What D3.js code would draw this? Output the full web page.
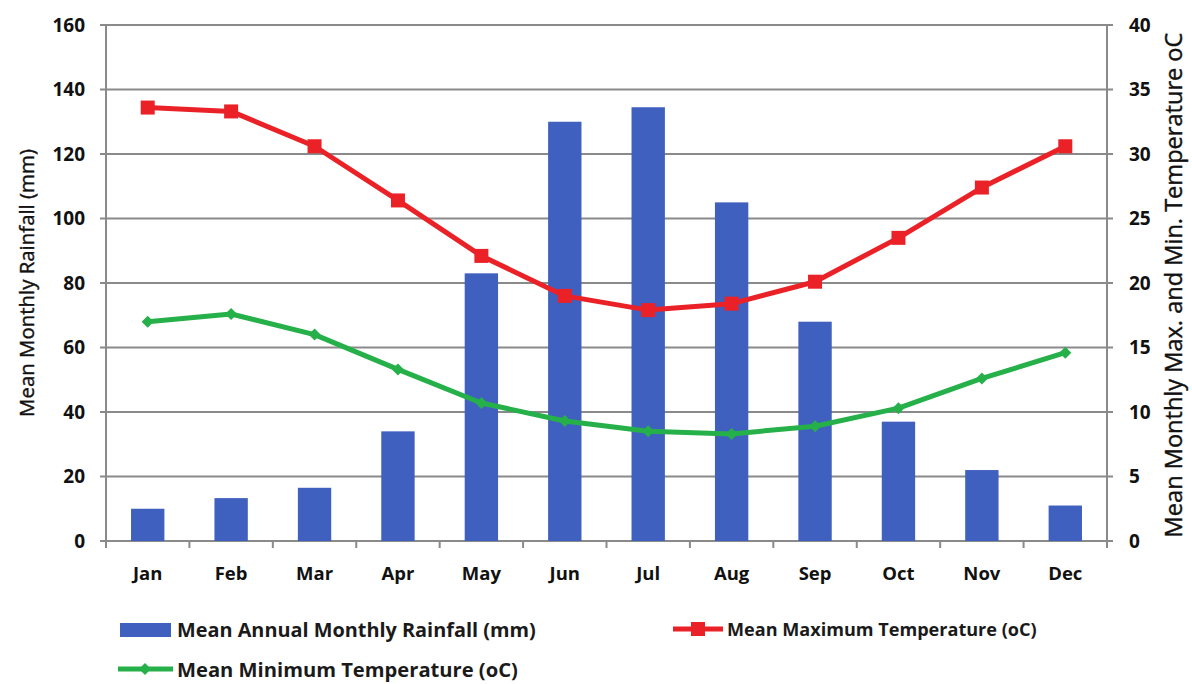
<!DOCTYPE html>
<html><head><meta charset="utf-8">
<script src="https://cdn.jsdelivr.net/npm/d3@7"></script>
<style>body{margin:0;background:#fff}svg{display:block}</style>
</head><body><svg id="c" width="1192" height="684"></svg>
<script>
const months = ["Jan","Feb","Mar","Apr","May","Jun","Jul","Aug","Sep","Oct","Nov","Dec"];
const rainfall = [10, 13.3, 16.5, 34, 83, 130, 134.5, 105, 68, 37, 22, 11];
const maxTemp = [33.6, 33.3, 30.6, 26.4, 22.1, 19.0, 17.9, 18.4, 20.1, 23.5, 27.4, 30.6];
const minTemp = [17.0, 17.6, 16.0, 13.3, 10.7, 9.3, 8.5, 8.3, 8.9, 10.3, 12.6, 14.6];
const leftTicks = [0,20,40,60,80,100,120,140,160];
const rightTicks = [0,5,10,15,20,25,30,35,40];

const svg = d3.select("#c");
const L=106, R=1107, T=25, B=541;
const font = "'Open Sans', Lato, sans-serif";
const x = d3.scaleBand().domain(months).range([L,R]).paddingInner(0.6).paddingOuter(0.3);
const xb = d3.scaleBand().domain(months).range([L,R]);
const yL = d3.scaleLinear().domain([0,160]).range([B,T]);
const yR = d3.scaleLinear().domain([0,40]).range([B,T]);
const grid="#8a8a8a";

function fit(sel, w){
  const n = sel.node(); const fs = parseFloat(sel.attr("font-size"));
  const cur = n.getComputedTextLength();
  const nf = fs*w/cur;
  sel.attr("font-size", nf);
  return nf;
}

svg.append("g").selectAll("line").data(leftTicks).join("line")
  .attr("x1",L-6).attr("x2",R+6).attr("y1",d=>yL(d)).attr("y2",d=>yL(d))
  .attr("stroke",grid).attr("stroke-width",2);
svg.append("line").attr("x1",L).attr("x2",L).attr("y1",T).attr("y2",B).attr("stroke",grid).attr("stroke-width",2);
svg.append("line").attr("x1",R).attr("x2",R).attr("y1",T).attr("y2",B).attr("stroke",grid).attr("stroke-width",2);
const bounds = months.map(m=>xb(m)).concat([R]);
svg.append("g").selectAll("line").data(bounds).join("line")
  .attr("x1",d=>d).attr("x2",d=>d).attr("y1",B).attr("y2",B+7).attr("stroke",grid).attr("stroke-width",2);

svg.append("g").selectAll("rect").data(rainfall).join("rect")
  .attr("x",(d,i)=>x(months[i])).attr("width",x.bandwidth())
  .attr("y",d=>yL(d)).attr("height",d=>B-yL(d)).attr("fill","#4060c0");

const cx = i => xb(months[i]) + xb.bandwidth()/2;
const line = s => d3.line().x((d,i)=>cx(i)).y(d=>s(d));
svg.append("path").datum(maxTemp).attr("d",line(yR)).attr("fill","none").attr("stroke","#ea2228").attr("stroke-width",5).attr("stroke-linejoin","round");
svg.append("path").datum(minTemp).attr("d",line(yR)).attr("fill","none").attr("stroke","#26b04a").attr("stroke-width",5).attr("stroke-linejoin","round");
svg.append("g").selectAll("rect").data(maxTemp).join("rect")
  .attr("x",(d,i)=>cx(i)-7).attr("y",d=>yR(d)-7).attr("width",14).attr("height",14).attr("fill","#ea2228");
svg.append("g").selectAll("path").data(minTemp).join("path")
  .attr("d",(d,i)=>`M${cx(i)},${yR(d)-6}L${cx(i)+6},${yR(d)}L${cx(i)},${yR(d)+6}L${cx(i)-6},${yR(d)}Z`).attr("fill","#26b04a");

svg.append("g").selectAll("text").data(leftTicks).join("text")
  .attr("x",85).attr("y",d=>yL(d)).attr("dy","0.36em").attr("text-anchor","end")
  .attr("font-family",font).attr("font-weight","bold").attr("font-size",19).attr("fill","#111").text(d=>d);
svg.append("g").selectAll("text").data(rightTicks).join("text")
  .attr("x",1129).attr("y",d=>yR(d)).attr("dy","0.36em").attr("text-anchor","start")
  .attr("font-family",font).attr("font-weight","bold").attr("font-size",19).attr("fill","#111").text(d=>d);
svg.append("g").selectAll("text").data(months).join("text")
  .attr("x",(d,i)=>cx(i)).attr("y",573).attr("dy","0.36em").attr("text-anchor","middle")
  .attr("font-family",font).attr("font-weight","bold").attr("font-size",18.5).attr("fill","#111").text(d=>d);

const t1 = svg.append("text").attr("transform",`translate(34,283) rotate(-90)`).attr("text-anchor","middle")
  .attr("font-family",font).attr("font-size",19).attr("fill","#111").attr("stroke","#111").attr("stroke-width",0.4).text("Mean Monthly Rainfall (mm)");
fit(t1, 268);
const t2 = svg.append("text").attr("transform",`translate(1182,285) rotate(-90)`).attr("text-anchor","middle")
  .attr("font-family",font).attr("font-size",19).attr("fill","#111").attr("stroke","#111").attr("stroke-width",0.4).text("Mean Monthly Max. and Min. Temperature oC");
fit(t2, 505);

const lg = svg.append("g").attr("font-family",font).attr("font-weight","bold").attr("fill","#1a1a1a");
lg.append("rect").attr("x",120).attr("y",623).attr("width",51).attr("height",14).attr("fill","#4060c0");
fit(lg.append("text").attr("x",177).attr("y",630).attr("dy","0.36em").attr("font-size",19).text("Mean Annual Monthly Rainfall (mm)"), 359);
lg.append("line").attr("x1",673).attr("x2",723).attr("y1",629).attr("y2",629).attr("stroke","#ea2228").attr("stroke-width",5);
lg.append("rect").attr("x",691).attr("y",622).attr("width",14).attr("height",14).attr("fill","#ea2228");
fit(lg.append("text").attr("x",727).attr("y",629).attr("dy","0.36em").attr("font-size",19).text("Mean Maximum Temperature (oC)"), 310);
lg.append("line").attr("x1",118).attr("x2",173).attr("y1",669).attr("y2",669).attr("stroke","#26b04a").attr("stroke-width",5);
lg.append("path").attr("d","M145,663L151,669L145,675L139,669Z").attr("fill","#26b04a");
fit(lg.append("text").attr("x",177).attr("y",670).attr("dy","0.36em").attr("font-size",19).text("Mean Minimum Temperature (oC)"), 341);
</script></body></html>
